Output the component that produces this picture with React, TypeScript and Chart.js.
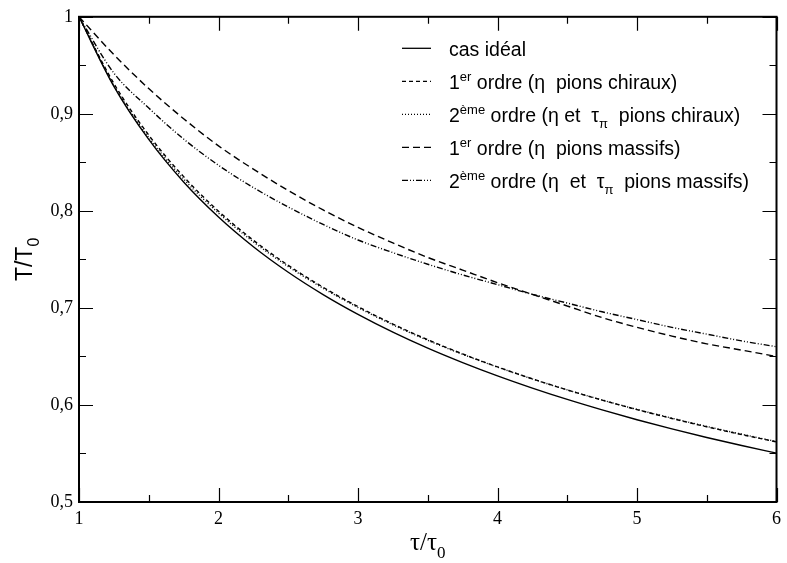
import React, { useEffect, useRef } from "react";
import { Chart, registerables } from "chart.js";

Chart.register(...registerables);

// ---- data ----
const tau = [1, 1.25, 1.5, 1.75, 2, 2.25, 2.5, 2.75, 3, 3.25, 3.5, 3.75, 4, 4.25, 4.5, 4.75, 5, 5.25, 5.5, 5.75, 6];
const ideal = [1, 0.9283, 0.8736, 0.8298, 0.7937, 0.7631, 0.7368, 0.7138, 0.6934, 0.6751, 0.6586, 0.6437, 0.63, 0.6174, 0.6057, 0.5949, 0.5848, 0.5754, 0.5665, 0.5582, 0.5503];
const chiral1 = [1, 0.9313, 0.8781, 0.8353, 0.7997, 0.7697, 0.7439, 0.7213, 0.7013, 0.6834, 0.6672, 0.6526, 0.6392, 0.6269, 0.6155, 0.605, 0.5952, 0.5861, 0.5775, 0.5695, 0.5619];
const chiral2 = [1, 0.9293, 0.8756, 0.8328, 0.7977, 0.7681, 0.7426, 0.7203, 0.7004, 0.6826, 0.6666, 0.6522, 0.639, 0.6268, 0.6155, 0.6051, 0.5954, 0.5864, 0.5779, 0.5699, 0.5623];
const massive1 = [1, 0.961, 0.926, 0.895, 0.867, 0.843, 0.821, 0.801, 0.783, 0.767, 0.752, 0.739, 0.726, 0.714, 0.702, 0.69, 0.68, 0.671, 0.663, 0.6565, 0.65];
const massive2 = [1, 0.942, 0.906, 0.874, 0.847, 0.824, 0.804, 0.786, 0.77, 0.757, 0.745, 0.734, 0.724, 0.714, 0.705, 0.696, 0.688, 0.68, 0.673, 0.666, 0.66];

const xMajor = [1, 2, 3, 4, 5, 6];
const xMinor = [1.5, 2.5, 3.5, 4.5, 5.5];
const yMajor = [0.5, 0.6, 0.7, 0.8, 0.9, 1];
const yMinor = [0.55, 0.65, 0.75, 0.85, 0.95];

type Part = { t: string; s?: "sup" | "sub" };
const legendLabels: Part[][] = [
  [{ t: "cas idéal" }],
  [{ t: "1" }, { t: "er", s: "sup" }, { t: " ordre (η  pions chiraux)" }],
  [{ t: "2" }, { t: "ème", s: "sup" }, { t: " ordre (η et  τ" }, { t: "π", s: "sub" }, { t: "  pions chiraux)" }],
  [{ t: "1" }, { t: "er", s: "sup" }, { t: " ordre (η  pions massifs)" }],
  [{ t: "2" }, { t: "ème", s: "sup" }, { t: " ordre (η  et  τ" }, { t: "π", s: "sub" }, { t: "  pions massifs)" }],
];
const dashes: number[][] = [[], [4, 3], [1, 2], [7, 4], [6, 2, 1, 2, 1, 2]];
const yTitle: Part[] = [{ t: "T/T" }, { t: "0", s: "sub" }];
const xTitle: Part[] = [{ t: "τ/τ" }, { t: "0", s: "sub" }];

const series = [ideal, chiral1, chiral2, massive1, massive2];

function drawRich(ctx: CanvasRenderingContext2D, x: number, y: number, parts: Part[], size: number, family: string) {
  let cx = x;
  ctx.textBaseline = "alphabetic";
  ctx.textAlign = "left";
  for (const p of parts) {
    let fs = size;
    let dy = 0;
    if (p.s === "sup") { fs = Math.round(size * 0.68); dy = -size * 0.42; }
    if (p.s === "sub") { fs = Math.round(size * 0.68); dy = size * 0.3; }
    ctx.font = `${fs}px ${family}`;
    ctx.fillText(p.t, cx, y + dy);
    cx += ctx.measureText(p.t).width;
  }
  return cx - x;
}

function measureRich(ctx: CanvasRenderingContext2D, parts: Part[], size: number, family: string) {
  let w = 0;
  for (const p of parts) {
    const fs = p.s ? Math.round(size * 0.68) : size;
    ctx.font = `${fs}px ${family}`;
    w += ctx.measureText(p.t).width;
  }
  return w;
}

const framePlugin = {
  id: "framePlugin",
  afterDraw(chart: any) {
    const { ctx, chartArea: a, scales } = chart;
    const xs = scales.x;
    const ys = scales.y;
    ctx.save();
    ctx.strokeStyle = "#000";
    ctx.lineWidth = 2;
    ctx.setLineDash([]);
    ctx.strokeRect(a.left, a.top, a.right - a.left, a.bottom - a.top);
    ctx.lineWidth = 1.2;
    const tick = (vals: number[], len: number) => {
      for (const v of vals) {
        const px = Math.round(xs.getPixelForValue(v)) + 0.5;
        ctx.beginPath();
        ctx.moveTo(px, a.bottom); ctx.lineTo(px, a.bottom - len);
        ctx.moveTo(px, a.top); ctx.lineTo(px, a.top + len);
        ctx.stroke();
      }
    };
    const tickY = (vals: number[], len: number) => {
      for (const v of vals) {
        const py = Math.round(ys.getPixelForValue(v)) + 0.5;
        ctx.beginPath();
        ctx.moveTo(a.left, py); ctx.lineTo(a.left + len, py);
        ctx.moveTo(a.right, py); ctx.lineTo(a.right - len, py);
        ctx.stroke();
      }
    };
    tick(xMajor, 14); tick(xMinor, 7);
    tickY(yMajor, 14); tickY(yMinor, 7);

    // legend
    const sans = "'Liberation Sans', Arial, sans-serif";
    ctx.fillStyle = "#000";
    for (let i = 0; i < legendLabels.length; i++) {
      const ly = a.top + 31 + i * 33;
      ctx.beginPath();
      ctx.lineWidth = 1.3;
      ctx.setLineDash(dashes[i]);
      ctx.moveTo(a.left + 323, ly + 0.5);
      ctx.lineTo(a.left + 352, ly + 0.5);
      ctx.stroke();
      ctx.setLineDash([]);
      drawRich(ctx, a.left + 370, ly + 8, legendLabels[i], 19.5, sans);
    }

    // axis titles
    const serif = "'Liberation Serif', 'Times New Roman', serif";
    const wx = measureRich(ctx, xTitle, 25, serif);
    drawRich(ctx, (a.left + a.right) / 2 - wx / 2, 550, xTitle, 25, serif);
    ctx.save();
    const wy = measureRich(ctx, yTitle, 23, sans);
    ctx.translate(32, (a.top + a.bottom) / 2 + wy / 2);
    ctx.rotate(-Math.PI / 2);
    drawRich(ctx, 0, 0, yTitle, 23, sans);
    ctx.restore();
    ctx.restore();
  },
};

export default function App() {
  const ref = useRef<HTMLCanvasElement | null>(null);
  useEffect(() => {
    if (!ref.current) return;
    const chart = new Chart(ref.current, {
      type: "line",
      data: {
        datasets: series.map((s, i) => ({
          label: ["ideal", "chiral1", "chiral2", "massive1", "massive2"][i],
          data: tau.map((x, j) => ({ x, y: s[j] })),
          borderColor: "#000",
          borderWidth: 1.4,
          borderDash: dashes[i],
          pointRadius: 0,
          fill: false,
          cubicInterpolationMode: "monotone" as const,
        })),
      },
      options: {
        responsive: false,
        animation: false,
        layout: { padding: { top: 12, right: 7, left: 0, bottom: 0 } },
        plugins: { legend: { display: false }, tooltip: { enabled: false } },
        scales: {
          x: {
            type: "linear",
            min: 1,
            max: 6,
            grid: { display: false, drawTicks: false },
            border: { display: false },
            ticks: {
              stepSize: 1,
              padding: 6,
              color: "#000",
              font: { family: "'Liberation Serif', 'Times New Roman', serif", size: 18 },
              maxRotation: 0,
              callback: (v: any) => String(v),
            },
            afterFit: (s: any) => { s.height = 61; },
          },
          y: {
            type: "linear",
            min: 0.5,
            max: 1,
            grid: { display: false, drawTicks: false },
            border: { display: false },
            ticks: {
              stepSize: 0.1,
              padding: 6,
              color: "#000",
              font: { family: "'Liberation Serif', 'Times New Roman', serif", size: 18 },
              callback: (v: any) => (Math.abs(v - 1) < 1e-9 ? "1" : Number(v).toFixed(1).replace(".", ",")),
            },
            afterFit: (s: any) => { s.width = 79; },
          },
        },
      },
      plugins: [framePlugin],
    });
    return () => chart.destroy();
  }, []);
  return (
    <div style={{ position: "absolute", left: 0, top: 0, width: 787, height: 563, background: "#fff" }}>
      <canvas ref={ref} width={787} height={563} style={{ display: "block" }} />
    </div>
  );
}
